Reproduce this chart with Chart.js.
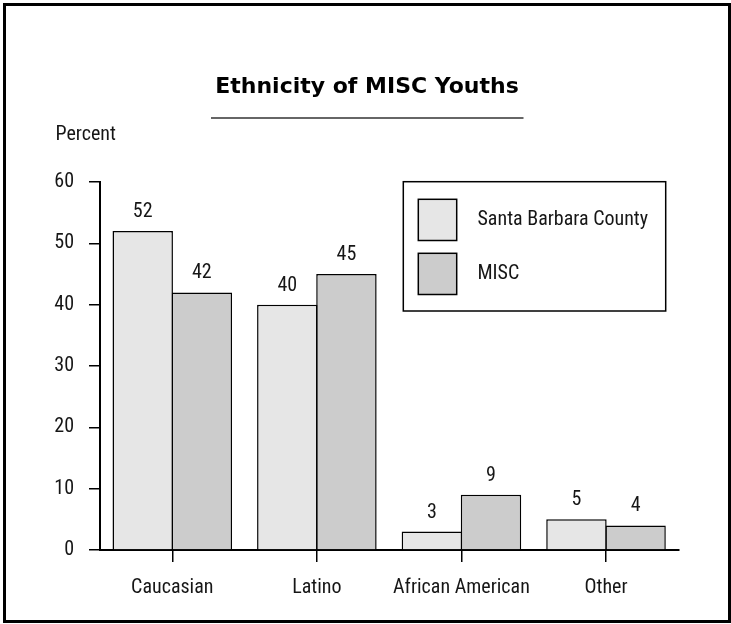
<!DOCTYPE html>
<html>
<head>
<meta charset="utf-8">
<script src="https://cdn.jsdelivr.net/npm/chart.js@4/dist/chart.umd.min.js"></script>
<style>
  html, body { margin: 0; padding: 0; background: #fff; }
  #wrap { position: relative; width: 731px; height: 624px; overflow: hidden; }
  #frame { position: absolute; left: 3px; top: 3px; width: 728px; height: 620px;
           box-sizing: border-box; border: 3px solid #000; pointer-events: none; }
  canvas { position: absolute; left: 0; top: 0; }
</style>
</head>
<body>
<div id="wrap">
  <canvas id="chart" width="731" height="624"></canvas>
  <div id="frame"></div>
</div>
<script>
// Chart content
const categories = ['Caucasian', 'Latino', 'African American', 'Other'];
const countyValues = [52, 40, 3, 5];
const miscValues = [42, 45, 9, 4];
const seriesNames = ['Santa Barbara County', 'MISC'];
const yTickValues = [0, 10, 20, 30, 40, 50, 60];
const titleText = 'Ethnicity of MISC Youths';
const yAxisCaption = 'Percent';

const NARROW = '"Roboto Condensed", "Noto Sans Condensed", "Liberation Sans Narrow", "DejaVu Sans Condensed", sans-serif';
const TEXT_SIZE = 20;
const INK = '#161616';

// Title, underline, axis caption, legend box and value labels
const decorations = {
  id: 'decorations',
  afterDatasetsDraw(chart) {
    const ctx = chart.ctx;
    ctx.save();
    ctx.fillStyle = INK;
    ctx.font = TEXT_SIZE + 'px ' + NARROW;
    ctx.textAlign = 'center';
    ctx.textBaseline = 'alphabetic';
    chart.data.datasets.forEach((ds, i) => {
      const meta = chart.getDatasetMeta(i);
      meta.data.forEach((bar, j) => {
        ctx.fillText(String(ds.data[j]), bar.x, bar.y - 14);
      });
    });
    ctx.restore();
  },
  afterDraw(chart) {
    const ctx = chart.ctx;
    ctx.save();
    // title
    ctx.fillStyle = '#000';
    ctx.font = 'bold 22px "DejaVu Sans", sans-serif';
    ctx.textAlign = 'center';
    ctx.textBaseline = 'alphabetic';
    ctx.fillText(titleText, 367, 93);
    // rule under the title
    ctx.strokeStyle = '#333';
    ctx.lineWidth = 1.5;
    ctx.beginPath();
    ctx.moveTo(211, 118);
    ctx.lineTo(523.5, 118);
    ctx.stroke();
    // axis caption
    ctx.fillStyle = INK;
    ctx.font = TEXT_SIZE + 'px ' + NARROW;
    ctx.textAlign = 'left';
    ctx.fillText(yAxisCaption, 55.5, 140);
    // legend
    ctx.strokeStyle = '#000';
    ctx.lineWidth = 1.5;
    ctx.fillStyle = '#fff';
    ctx.fillRect(403.3, 181.7, 262.4, 129.3);
    ctx.strokeRect(403.3, 181.7, 262.4, 129.3);
    const rows = [199.3, 253.3];
    chart.data.datasets.forEach((ds, i) => {
      const y = rows[i];
      ctx.fillStyle = ds.backgroundColor;
      ctx.fillRect(418.3, y, 38.4, 41.2);
      ctx.strokeStyle = '#000';
      ctx.lineWidth = 1.5;
      ctx.strokeRect(418.3, y, 38.4, 41.2);
      ctx.fillStyle = INK;
      ctx.font = TEXT_SIZE + 'px ' + NARROW;
      ctx.textAlign = 'left';
      ctx.textBaseline = 'middle';
      ctx.fillText(ds.label, 477.5, y + 21);
    });
    ctx.restore();
  }
};

new Chart(document.getElementById('chart'), {
  type: 'bar',
  data: {
    labels: categories,
    datasets: [
      { label: seriesNames[0], data: countyValues, backgroundColor: '#e6e6e6',
        borderColor: '#000', borderWidth: 1.5 },
      { label: seriesNames[1], data: miscValues, backgroundColor: '#cccccc',
        borderColor: '#000', borderWidth: 1.5 }
    ]
  },
  options: {
    responsive: false,
    animation: false,
    devicePixelRatio: 1,
    layout: { padding: { left: 0, top: 182, right: 52.7, bottom: 0 } },
    datasets: { bar: { categoryPercentage: 0.818, barPercentage: 1.022 } },
    plugins: {
      legend: { display: false },
      title: { display: false },
      tooltip: { enabled: false }
    },
    scales: {
      x: {
        offset: true,
        grid: { display: true, drawOnChartArea: false, drawTicks: true, offset: false,
                tickLength: 12, color: '#000', lineWidth: 1.5 },
        border: { display: true, color: '#000', width: 2 },
        ticks: { color: INK, font: { family: NARROW, size: TEXT_SIZE }, padding: 14,
                 maxRotation: 0, autoSkip: false },
        afterFit(scale) { scale.height = 74; }
      },
      y: {
        min: 0, max: 60,
        afterBuildTicks(scale) { scale.ticks = yTickValues.map(v => ({ value: v })); },
        grid: { display: true, drawOnChartArea: false, drawTicks: true,
                tickLength: 11, color: '#000', lineWidth: 1.5 },
        border: { display: true, color: '#000', width: 2 },
        ticks: { color: INK, font: { family: NARROW, size: TEXT_SIZE }, padding: 15 },
        afterFit(scale) { scale.width = 100; }
      }
    }
  },
  plugins: [decorations]
});
</script>
</body>
</html>
